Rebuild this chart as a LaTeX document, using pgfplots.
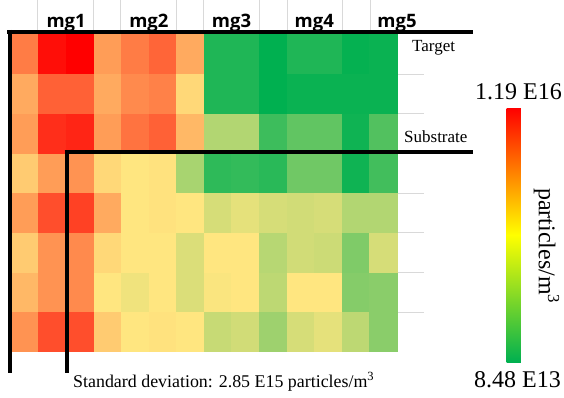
\documentclass[border=0pt]{standalone}
\usepackage{pgfplots}
\pgfplotsset{compat=1.18}
\usepackage{pgfplotstable}
\usepackage{fontspec}
\setmainfont{Liberation Serif}
\newfontfamily\hdr{Open Sans}
\definecolor{gridgray}{RGB}{217,217,217}

% relative concentration (0 = min, 100 = max); rows y=0 (bottom) .. 7 (top)
\pgfplotstableread{
x y v
0 0 68
1 0 83
2 0 83
3 0 56
4 0 50
5 0 51
6 0 50
7 0 39
8 0 41
9 0 31
10 0 42
11 0 45
12 0 37
13 0 27
0 1 60
1 1 68
2 1 70
3 1 50
4 1 47
5 1 50
6 1 43
7 1 49
8 1 50
9 1 37
10 1 50
11 1 50
12 1 26
13 1 27
0 2 56
1 2 68
2 2 70
3 2 53
4 2 50
5 2 50
6 2 43
7 2 50
8 2 50
9 2 36
10 2 41
11 2 40
12 2 25
13 2 42
0 3 66
1 3 83
2 3 86
3 3 63
4 3 50
5 3 51
6 3 50
7 3 42
8 3 45
9 3 42
10 3 41
11 3 42
12 3 35
13 3 35
0 4 56
1 4 66
2 4 68
3 4 53
4 4 50
5 4 51
6 4 33
7 4 9
8 4 10
9 4 8
10 4 22
11 4 22
12 4 3
13 4 13
0 5 66
1 5 90
2 5 92
3 5 66
4 5 75
5 5 79
6 5 60
7 5 35
8 5 35
9 5 12
10 5 19
11 5 19
12 5 3
13 5 16
0 6 63
1 6 79
2 6 79
3 6 63
4 6 70
5 6 72
6 6 53
7 6 6
8 6 6
9 6 0
10 6 2
11 6 2
12 6 2
13 6 2
0 7 73
1 7 97
2 7 100
3 7 66
4 7 73
5 7 78
6 7 63
7 7 6
8 7 6
9 7 0
10 7 6
11 7 6
12 7 1
13 7 2
}\cells

\begin{document}
\begin{tikzpicture}
\path[use as bounding box] (0,0) rectangle (564pt,397pt);

% header grid lines
\foreach \gx in {37,93,120,176,203,259,287,342,370}{
  \draw[gridgray, line width=0.8pt] (\gx pt,397pt) -- (\gx pt,367pt);
}
% right grid lines
\foreach \gy in {323,284,204,165,125,85}{
  \draw[gridgray, line width=0.8pt] (397pt,\gy pt) -- (424pt,\gy pt);
}

\begin{axis}[
  at={(11pt,46pt)}, anchor=south west,
  scale only axis, width=386pt, height=317pt,
  xmin=-0.5, xmax=13.5, ymin=-0.5, ymax=7.5,
  axis line style={draw=none},
  xtick={1.5,4.5,7.5,10.5,13.5},
  xticklabels={mg1,mg2,mg3,mg4,mg5},
  xticklabel pos=right,
  major tick length=0pt,
  ytick=\empty,
  xticklabel style={font=\hdr\bfseries\fontsize{18.5}{20}\selectfont, anchor=base, yshift=7pt, inner sep=0pt},
  colormap={cells}{rgb255=(0,176,80) rgb255=(255,230,128) rgb255=(255,0,0)},
  point meta min=0, point meta max=100,
  clip=false,
]
\addplot[matrix plot*, mesh/cols=14, point meta=explicit] table[x=x, y=y, meta=v] {\cells};
\end{axis}

\begin{axis}[
  at={(498pt,35pt)}, anchor=south west,
  scale only axis, width=10pt, height=10pt, hide axis,
  xmin=0, xmax=1, ymin=0, ymax=1,
  colormap={bar}{rgb255=(0,176,80) rgb255=(255,255,0) rgb255=(255,0,0)},
  point meta min=0, point meta max=100,
  colorbar,
  colorbar style={at={(parent axis.south west)}, anchor=south west,
    width=23pt, height=254pt, ytick=\empty, axis line style={draw=none}},
]
\addplot[draw=none] coordinates {(0,0)};
\end{axis}

% black frame lines
\draw[line width=4pt] (7pt,365pt) -- (473pt,365pt);
\draw[line width=4pt] (9.5pt,367pt) -- (9.5pt,24pt);
\draw[line width=4.5pt] (64.5pt,245pt) -- (473pt,245pt);
\draw[line width=4.5pt] (66.75pt,247pt) -- (66.75pt,24pt);

\node[anchor=base west, inner sep=0pt, font=\fontsize{17}{20}\selectfont] at (412pt,345pt) {Target};
\node[anchor=base west, inner sep=0pt, font=\fontsize{17}{20}\selectfont] at (404pt,255pt) {Substrate};
\node[anchor=base, inner sep=0pt, font=\fontsize{24}{28}\selectfont] at (518.5pt,298pt) {1.19 E16};
\node[anchor=base, inner sep=0pt, font=\fontsize{24}{28}\selectfont] at (517.5pt,10pt) {8.48 E13};
\node[rotate=-90, anchor=center, inner sep=0pt, font=\fontsize{24}{28}\selectfont] at (546.5pt,151pt) {particles/m\textsuperscript{3}};
\node[anchor=base west, inner sep=0pt, font=\fontsize{17.9}{20}\selectfont] at (73pt,10pt) {Standard deviation: 2.85 E15 particles/m\textsuperscript{3}};
\end{tikzpicture}
\end{document}
